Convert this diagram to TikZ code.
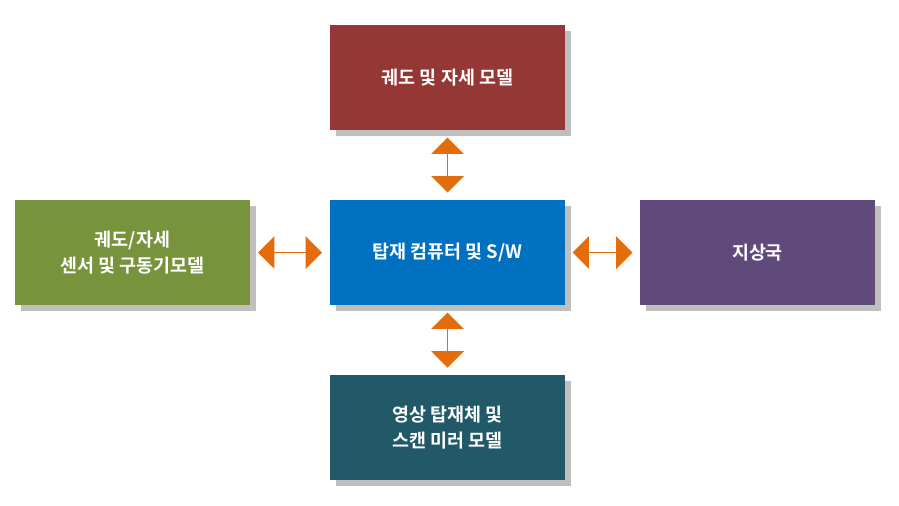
\documentclass[tikz,border=0pt]{standalone}
\usepackage{fontspec}
\setmainfont{Noto Sans CJK KR}[BoldFont={* Bold}]
\usetikzlibrary{calc,shapes.arrows,shadows}
\definecolor{boxred}{HTML}{953735}
\definecolor{boxblue}{HTML}{0070C0}
\definecolor{boxgreen}{HTML}{77933C}
\definecolor{boxpurple}{HTML}{604A7B}
\definecolor{boxteal}{HTML}{215968}
\definecolor{arrorange}{HTML}{E46C0A}
\tikzset{
  blk/.style={minimum width=4.7cm,minimum height=2.1cm,text=white,align=center,
    font=\bfseries\fontsize{10.5}{15}\selectfont,
    drop shadow={shadow xshift=0.12cm,shadow yshift=-0.12cm,opacity=0.25,fill=black}},
  darrow/.style={double arrow,fill=arrorange,inner sep=0pt,minimum width=0.56cm,
    double arrow head extend=0.32cm,double arrow head indent=0pt},
}
\begin{document}
\begin{tikzpicture}[x=0.02cm,y=-0.02cm]
    \useasboundingbox (0,0) rectangle (899,505);

    \node[blk,fill=boxred] (orbit) at (447.5,77.5) {궤도 및 자세 모델};
    \node[blk,fill=boxblue] (obc) at (447.5,252.5) {탑재 컴퓨터 및 S/W};
    \node[blk,fill=boxgreen] (sensor) at (132.5,252.5) {궤도/자세\\센서 및 구동기모델};
    \node[blk,fill=boxpurple] (ground) at (757.5,252.5) {지상국};
    \node[blk,fill=boxteal] (payload) at (447.5,427.5) {영상 탑재체 및\\스캔 미러 모델};

    \node[darrow,rotate=90,minimum height=1.1cm] (a1) at ($(orbit.south)!0.5!(obc.north)$) {};
    \node[darrow,rotate=90,minimum height=1.1cm] (a2) at ($(obc.south)!0.5!(payload.north)$) {};
    \node[darrow,minimum height=1.28cm] (a3) at ($(sensor.east)!0.5!(obc.west)$) {};
    \node[darrow,minimum height=1.2cm] (a4) at ($(obc.east)!0.5!(ground.west)$) {};
\end{tikzpicture}
\end{document}
